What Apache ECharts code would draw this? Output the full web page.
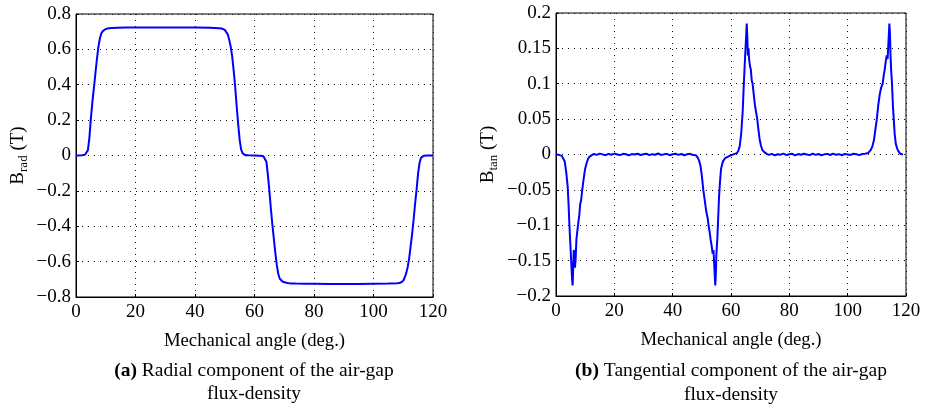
<!DOCTYPE html>
<html><head><meta charset="utf-8">
<script src="https://cdn.jsdelivr.net/npm/echarts@6/dist/echarts.min.js"></script>
<style>html,body{margin:0;padding:0;background:#fff}#c{width:931px;height:411px}</style>
</head><body><div id="c"></div>
<script>
// ---- Data ----
const angleRad = [0,1,2,3,3.5,4,4.5,5,5.5,6,6.5,7,7.5,8,8.5,9,9.5,10,11,12,14,17,20,25,30,35,40,45,48,49,49.5,50,50.5,51,51.5,52,52.5,53,53.5,54,54.5,55,55.5,56,56.5,57,58,60,62,63,63.5,64,64.5,65,65.5,66,66.5,67,67.5,68,68.5,69,69.5,70,71,72,74,77,80,85,90,95,100,105,108,109,109.5,110,110.5,111,111.5,112,112.5,113,113.5,114,114.5,115,115.5,116,116.5,117,118,120];
const bRad = [0,0,0.001,0.004,0.01,0.03,0.1,0.21,0.3,0.38,0.46,0.54,0.61,0.66,0.69,0.703,0.711,0.715,0.719,0.721,0.722,0.723,0.723,0.724,0.724,0.724,0.723,0.722,0.72,0.718,0.715,0.71,0.70,0.685,0.655,0.615,0.56,0.48,0.39,0.28,0.18,0.09,0.035,0.012,0.004,0.002,0.001,0,-0.001,-0.004,-0.012,-0.035,-0.11,-0.2,-0.3,-0.39,-0.47,-0.55,-0.62,-0.67,-0.697,-0.708,-0.714,-0.718,-0.721,-0.723,-0.724,-0.725,-0.725,-0.726,-0.726,-0.726,-0.725,-0.724,-0.722,-0.72,-0.716,-0.708,-0.69,-0.665,-0.63,-0.58,-0.51,-0.44,-0.36,-0.27,-0.19,-0.1,-0.04,-0.012,-0.004,-0.001,0,0];

const angleTan = [0,1,2,2.5,3,3.5,4,4.3,4.6,4.9,5.2,5.5,5.7,5.9,6.1,6.3,6.5,6.7,7.0,7.4,7.7,8.0,8.3,8.6,9.0,9.3,9.7,10.0,10.5,11,11.5,12,13,14,15,16,17,18,19,20,21,22,23,24,25,26,27,28,29,30,31,32,33,34,35,36,37,38,39,40,41,42,43,44,45,46,47,48,48.5,49,49.5,50,50.5,51,51.5,52,52.3,52.7,53.0,53.4,53.7,54.0,54.3,54.6,54.8,55.0,55.3,55.6,55.9,56.2,56.6,57.2,58,59,60,61,62,62.5,63,63.5,64,64.4,64.8,65.1,65.4,65.6,65.8,66.0,66.2,66.5,66.8,67.1,67.4,67.8,68.2,68.6,69.0,69.4,69.8,70.3,70.8,71.5,72.3,73,74,75,76,77,78,79,80,81,82,83,84,85,86,87,88,89,90,91,92,93,94,95,96,97,98,99,100,101,102,103,104,105,106,107,107.5,108,108.5,109,109.5,110,110.5,111,111.5,112,112.3,112.7,113,113.4,113.7,114,114.3,114.5,114.7,114.9,115.2,115.5,115.8,116.1,116.5,117,117.5,118,119,120];
const bTan = [0,-0.0005,-0.002,-0.004,-0.01,-0.025,-0.045,-0.07,-0.1,-0.125,-0.15,-0.175,-0.185,-0.16,-0.135,-0.14,-0.16,-0.15,-0.12,-0.105,-0.095,-0.085,-0.07,-0.065,-0.05,-0.04,-0.028,-0.02,-0.012,-0.006,-0.003,-0.001,0.0008,-0.0006,0.0012,0.0002,-0.001,0.0009,-0.0004,0.0013,0.0001,-0.0008,0.001,0.0004,-0.0012,0.0006,0,0.0011,-0.0007,0.0003,0.0012,-0.0009,0.0005,-0.0003,0.0014,-0.0006,0.0002,0.0009,-0.001,0.0004,0.0011,-0.0005,0.0007,-0.0011,0.0003,0.0009,-0.0007,-0.001,-0.004,-0.008,-0.015,-0.03,-0.05,-0.065,-0.08,-0.09,-0.1,-0.11,-0.12,-0.13,-0.14,-0.135,-0.16,-0.185,-0.17,-0.14,-0.12,-0.09,-0.06,-0.04,-0.02,-0.01,-0.005,-0.003,-0.001,0.0005,0.002,0.005,0.012,0.03,0.06,0.1,0.135,0.16,0.185,0.165,0.14,0.15,0.135,0.125,0.12,0.105,0.1,0.085,0.07,0.06,0.05,0.035,0.022,0.012,0.006,0.003,0.001,-0.0006,0.0009,-0.0011,0.0004,-0.0002,0.0012,-0.0008,0.0003,0.001,-0.0012,0.0006,-0.0004,0.0011,0.0001,-0.0009,0.0013,-0.0005,0.0007,-0.001,0.0002,0.0009,-0.0007,0.0012,-0.0003,0.0005,-0.0011,0.0008,0.0001,-0.0006,0.001,0.0004,-0.0009,0.0007,0.001,0.002,0.004,0.007,0.012,0.02,0.035,0.05,0.07,0.085,0.095,0.1,0.11,0.12,0.13,0.14,0.135,0.16,0.185,0.17,0.14,0.12,0.1,0.07,0.05,0.03,0.015,0.008,0.004,0.001,0];

const xTicks = { min: 0, max: 120, interval: 20 };
const yTicksRad = { min: -0.8, max: 0.8, interval: 0.2 };
const yTicksTan = { min: -0.2, max: 0.2, interval: 0.05 };

const zip = (a, b) => a.map((v, i) => [v, b[i]]);
const FONT = 'Liberation Serif';
const fmt = v => String(+(+v).toFixed(2)).replace('-', '\u2212');
const grid = { color: '#111', type: [1, 5], width: 1 };

function xAxisCfg(gi) {
  return {
    gridIndex: gi, type: 'value', min: xTicks.min, max: xTicks.max, interval: xTicks.interval,
    axisLine: { onZero: false, lineStyle: { color: '#000', width: 1 } },
    axisTick: { inside: true, length: 3, lineStyle: { color: '#000' } },
    axisLabel: { color: '#000', fontFamily: FONT, fontSize: 19, margin: 6, formatter: fmt },
    splitLine: { show: true, lineStyle: grid },
    name: 'Mechanical angle (deg.)', nameLocation: 'middle', nameGap: 35,
    nameTextStyle: { color: '#000', fontFamily: FONT, fontSize: 18.7 }
  };
}
function yAxisCfg(gi, t, sub, gap) {
  return {
    gridIndex: gi, type: 'value', min: t.min, max: t.max, interval: t.interval,
    axisLine: { onZero: false, lineStyle: { color: '#000', width: 1 } },
    axisTick: { inside: true, length: 3, lineStyle: { color: '#000' } },
    axisLabel: { color: '#000', fontFamily: FONT, fontSize: 19, margin: 5, formatter: fmt },
    splitLine: { show: true, lineStyle: grid },
    name: '{m|B}{s|' + sub + '}{m| (T)}', nameLocation: 'middle', nameGap: gap, nameRotate: 90,
    nameTextStyle: {
      color: '#000', fontFamily: FONT,
      rich: {
        m: { fontFamily: FONT, fontSize: 19, color: '#000', lineHeight: 24, verticalAlign: 'middle' },
        s: { fontFamily: FONT, fontSize: 13, color: '#000', lineHeight: 14, verticalAlign: 'bottom' }
      }
    }
  };
}
const capRich = {
  b: { fontFamily: FONT, fontSize: 19.5, fontWeight: 'bold', fill: '#000' },
  r: { fontFamily: FONT, fontSize: 19.5, fill: '#000' }
};
function capLine(cx, y, txt) {
  return { type: 'text', x: cx, y: y, style: { text: txt, fontFamily: FONT, fontSize: 19.5, fill: '#000', textAlign: 'center', textVerticalAlign: 'middle' } };
}

const chart = echarts.init(document.getElementById('c'), null, { renderer: 'canvas' });
chart.setOption({
  animation: false,
  backgroundColor: '#fff',
  grid: [
    { left: 76, top: 14, width: 357, height: 283, show: true, borderColor: '#000', borderWidth: 1, containLabel: false },
    { left: 556, top: 13, width: 350, height: 283, show: true, borderColor: '#000', borderWidth: 1, containLabel: false }
  ],
  xAxis: [xAxisCfg(0), xAxisCfg(1)],
  yAxis: [yAxisCfg(0, yTicksRad, 'rad', 46), yAxisCfg(1, yTicksTan, 'tan', 56)],
  series: [
    { type: 'line', xAxisIndex: 0, yAxisIndex: 0, data: zip(angleRad, bRad), showSymbol: false, lineStyle: { color: '#0000ff', width: 2 } },
    { type: 'line', xAxisIndex: 1, yAxisIndex: 1, data: zip(angleTan, bTan), showSymbol: false, lineStyle: { color: '#0000ff', width: 2 } }
  ],
  graphic: [
    { type: 'text', x: 254, y: 371, style: { text: '{b|(a)}{r| Radial component of the air-gap}', textAlign: 'center', textVerticalAlign: 'middle', rich: capRich } },
    capLine(254, 394, 'flux-density'),
    { type: 'text', x: 731, y: 371, style: { text: '{b|(b)}{r| Tangential component of the air-gap}', textAlign: 'center', textVerticalAlign: 'middle', rich: capRich } },
    capLine(731, 395, 'flux-density')
  ]
});
</script></body></html>
